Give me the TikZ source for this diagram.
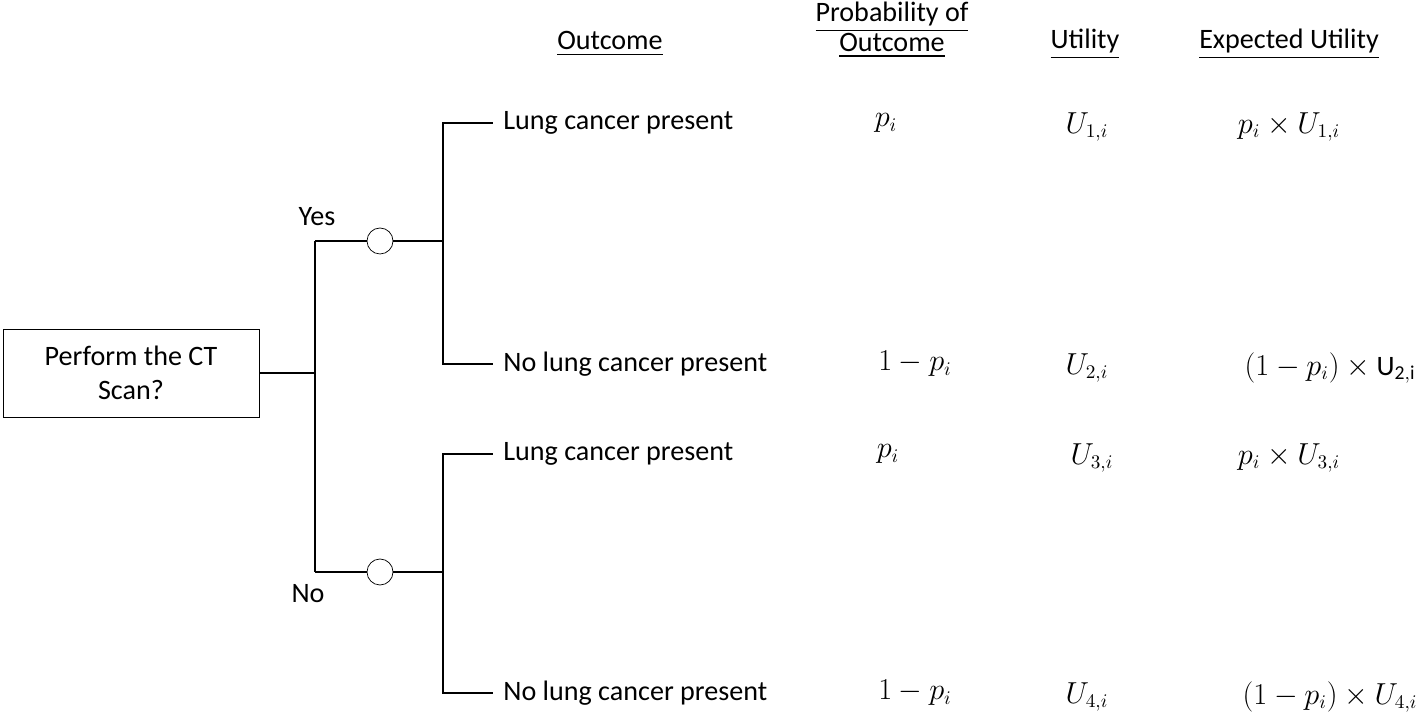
\documentclass[tikz,border=0pt]{standalone}
\usepackage{fontspec}
\setmainfont{Carlito}
\usepackage{amsmath}
\begin{document}
\begin{tikzpicture}[x=0.02cm, y=-0.02cm,
    every node/.style={font=\fontsize{16}{19}\selectfont},
    chance/.style={draw, circle, minimum size=0.52cm, inner sep=0pt, fill=white},
    head/.style={align=center},
    leaf/.style={anchor=west, inner sep=0pt}]

  \useasboundingbox (0,0) rectangle (1416,715);

  % headers
  \node[head] (hout) at (610,44) {\underline{Outcome}};
  \node[head] (hprob) at (892,30) {\underline{Probability of}\\[-2pt]\underline{Outcome}};
  \node[head] (hutil) at (1085,44) {\underline{Utility}};
  \node[head] (heu) at (1289,44) {\underline{Expected Utility}};

  % decision
  \node[draw, minimum width=5.12cm, minimum height=1.76cm, align=center] (scan) at (131,373)
    {Perform the CT\\Scan?};
  \coordinate (split) at (315,373);
  \coordinate (yes) at (315,241);
  \coordinate (no) at (315,572);
  \node[chance] (cy) at (380,241) {};
  \node[chance] (cn) at (380,572) {};
  \coordinate (jy) at (443,241);
  \coordinate (jn) at (443,572);

  \draw[thick] (scan.east) -- (split);
  \draw[thick] (yes) -- (no);
  \draw[thick] (yes) -- (cy) -- (jy);
  \draw[thick] (no) -- (cn) -- (jn);
  \node (lyes) at (317,217) {Yes};
  \node (lno) at (308,594) {No};

  % outcomes
  \foreach \n/\y/\j/\t in {1/123/jy/Lung cancer present, 2/364/jy/No lung cancer present,
                           3/454/jn/Lung cancer present, 4/693/jn/No lung cancer present} {
    \coordinate (b\n) at (443,\y);
    \node[leaf] (o\n) at (503,\y) {\t};
    \draw[thick] (\j) -- (b\n) -- ++(50,0);
  }

  % probabilities, utilities, expected utilities
  \node (p1) at (886,123) {$p_i$};
  \node (p2) at (915,364) {$1-p_i$};
  \node (p3) at (888,454) {$p_i$};
  \node (p4) at (915,693) {$1-p_i$};
  \node (u1) at (1087,127) {$U_{1,i}$};
  \node (u2) at (1087,368) {$U_{2,i}$};
  \node (u3) at (1092,458) {$U_{3,i}$};
  \node (u4) at (1087,697) {$U_{4,i}$};
  \node (e1) at (1289,127) {$p_i\times U_{1,i}$};
  \node (e2) at (1330,368) {$(1-p_i)\times \mathrm{U_{2,i}}$};
  \node (e3) at (1289,458) {$p_i\times U_{3,i}$};
  \node (e4) at (1330,697) {$(1-p_i)\times U_{4,i}$};
\end{tikzpicture}
\end{document}
